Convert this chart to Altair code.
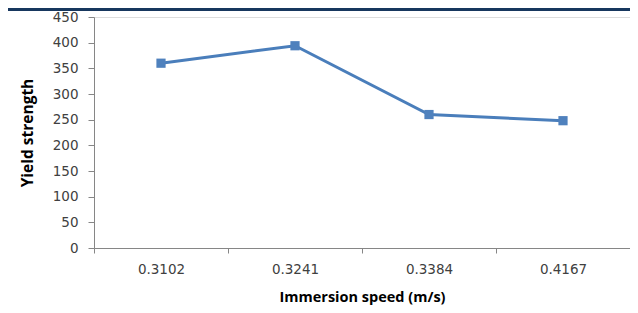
import altair as alt
import pandas as pd

speeds = ["0.3102", "0.3241", "0.3384", "0.4167"]
yield_strength = [360, 394, 260, 248]
y_ticks = [0, 50, 100, 150, 200, 250, 300, 350, 400, 450]

df = pd.DataFrame({"speed": speeds, "ys": yield_strength})

label_font = "DejaVu Sans"
title_font = "Open Sans"

x_enc = alt.X(
    "speed:N",
    sort=speeds,
    scale=alt.Scale(type="band", paddingInner=0, paddingOuter=0),
    axis=alt.Axis(
        title="Immersion speed (m/s)",
        labelAngle=0,
        tickBand="extent",
        grid=False,
        domainColor="#868686",
        tickColor="#868686",
        tickSize=5,
        labelFont=label_font,
        labelFontSize=13.5,
        labelColor="#404040",
        labelPadding=9,
        titleFont=title_font,
        titleFontSize=14.5,
        titleFontWeight="bold",
        titleColor="#000000",
        titlePadding=15,
    ),
)

y_enc = alt.Y(
    "ys:Q",
    scale=alt.Scale(domain=[0, 450], nice=False),
    axis=alt.Axis(
        title="Yield strength",
        values=y_ticks,
        grid=False,
        domainColor="#868686",
        tickColor="#868686",
        tickSize=6,
        labelFont=label_font,
        labelFontSize=13.5,
        labelColor="#404040",
        labelPadding=10,
        titleFont=title_font,
        titleFontSize=15.5,
        titleFontWeight="bold",
        titleColor="#000000",
        titlePadding=17,
    ),
)

base = alt.Chart(df).encode(x=x_enc, y=y_enc)

line = base.mark_line(color="#4A7EBB", strokeWidth=3)
points = base.mark_square(color="#4F81BD", size=85, opacity=1, filled=True)

border = alt.Chart(pd.DataFrame({"k": [0]})).mark_rule(
    color="#17375E", strokeWidth=3
).encode(x=alt.value(-86), x2=alt.value(540), y=alt.value(-7.5))

chart = (
    alt.layer(line, points, border)
    .properties(
        width=536,
        height=231,
        autosize=alt.AutoSizeParams(type="none"),
        padding={"left": 86, "top": 9, "right": 0, "bottom": 57},
    )
    .configure_view(stroke=None)
    .configure(background="white")
)

chart.save("out.html", embed_options={"renderer": "svg", "actions": False})
